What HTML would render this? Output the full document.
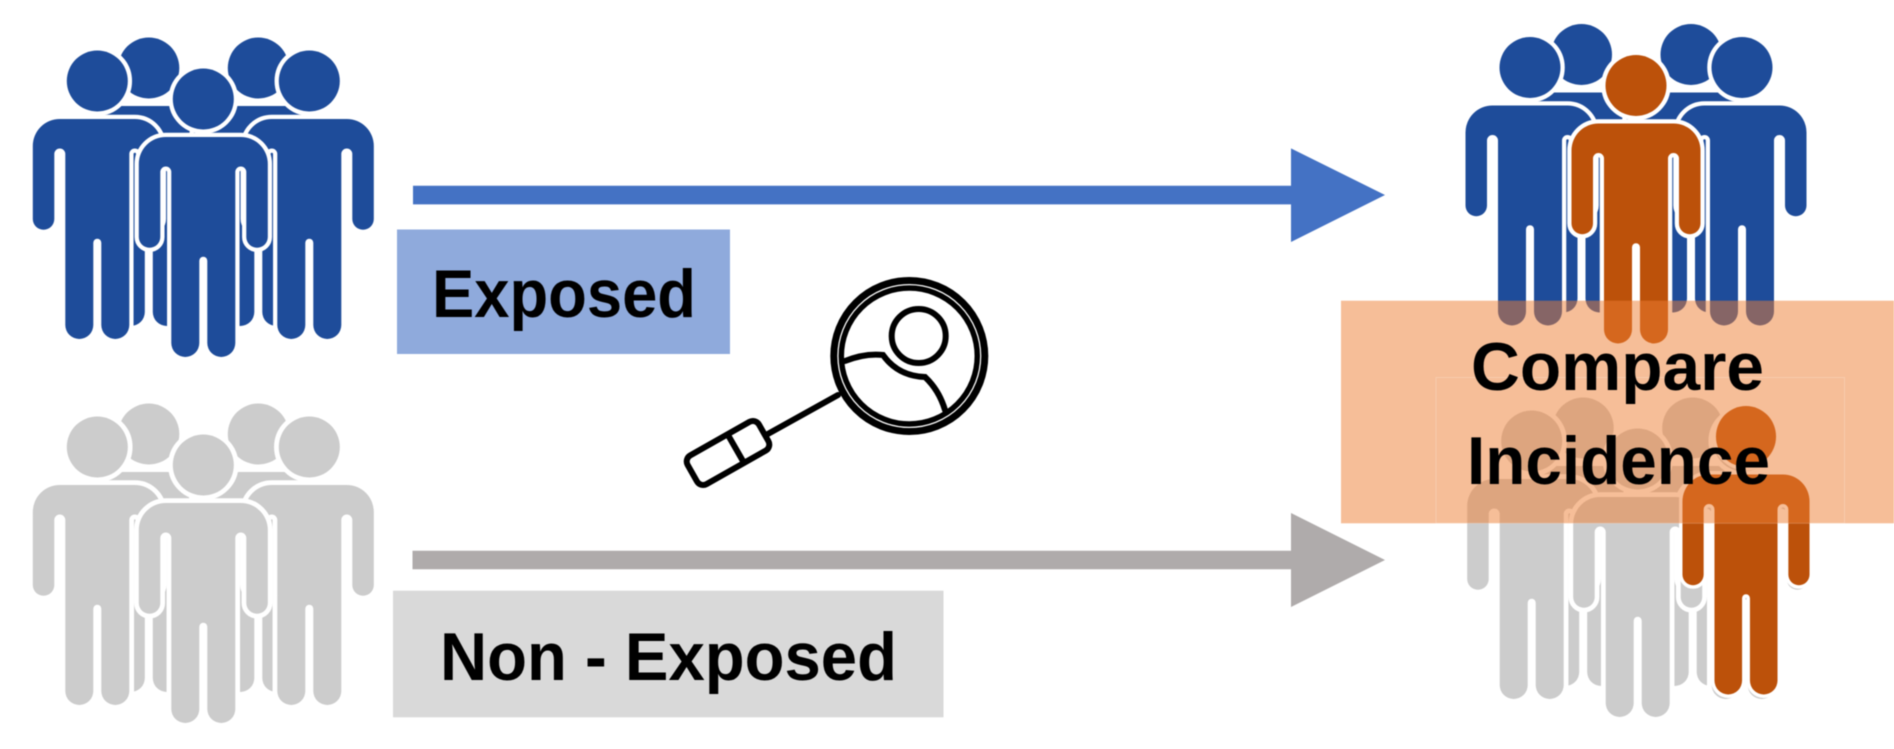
<!DOCTYPE html>
<html>
<head>
<meta charset="utf-8">
<style>
html,body{margin:0;padding:0;background:#fff;width:1894px;height:749px;overflow:hidden}
svg{display:block;filter:blur(0.6px)}
text{font-family:"Liberation Sans",sans-serif;font-weight:bold;fill:#000;font-size:68px}
</style>
</head>
<body>
<svg width="1894" height="749" viewBox="0 0 1894 749" xmlns="http://www.w3.org/2000/svg">
<defs>
<g id="p" stroke="#fff" paint-order="stroke">
<circle cx="0" cy="0" r="30.500"/>
<path d="M-37.500 38H37.500A27 27 0 0 1 64.500 65V138A10.750 10.750 0 0 1 43 138V73A5.500 5.500 0 0 0 32 73V244A14 14 0 0 1 4 244V161.700A4 4 0 0 0 -4 161.700V244A14 14 0 0 1 -32 244V73A5.500 5.500 0 0 0 -43 73V138A10.750 10.750 0 0 1 -64.500 138V65A27 27 0 0 1 -37.500 38Z"/>
</g>
<g id="g4">
<use href="#p" x="-54.500" y="-31"/>
<use href="#p" x="55" y="-31"/>
<use href="#p" x="-106" y="-18"/>
<use href="#p" x="106" y="-18"/>
</g>
</defs>

<rect width="1894" height="749" fill="#fff"/>

<!-- left blue group -->
<g fill="#1E4C9A" stroke-width="8.500" transform="translate(203.300 99)">
<use href="#g4"/><use href="#p"/>
</g>
<!-- left gray group -->
<g fill="#CCCCCC" stroke-width="9.500" transform="translate(203.300 465)">
<use href="#g4"/><use href="#p"/>
</g>

<!-- arrows -->
<path d="M413 185.700H1291V148.400L1385 195L1291 242V204.400H413Z" fill="#4472C4"/>
<path d="M412.500 550.700H1291V513L1385 560L1291 607V569.300H412.500Z" fill="#AFABAB"/>

<!-- labels -->
<rect x="397" y="229.500" width="333" height="124.500" fill="#8FAADC"/>
<text x="432" y="317" textLength="264" lengthAdjust="spacingAndGlyphs">Exposed</text>
<rect x="393" y="590.700" width="550.500" height="126.600" fill="#D9D9D9"/>
<text x="440" y="680" textLength="457" lengthAdjust="spacingAndGlyphs">Non - Exposed</text>

<!-- magnifier -->
<g fill="none" stroke="#000" stroke-linecap="round">
<circle cx="909.300" cy="356" r="75.500" stroke-width="7"/>
<circle cx="909.300" cy="356" r="68" stroke-width="5.500"/>
<circle cx="918.700" cy="336" r="27" stroke-width="6"/>
<path d="M845 361Q865 353 883 355Q898 376 925 377Q939 390 945 410" stroke-width="6"/>
<path d="M838 395L766 435" stroke-width="6"/>
<rect x="-41" y="-16.500" width="82" height="33" rx="7" transform="translate(728 453) rotate(-29.500)" stroke-width="6"/>
<path d="M728 435L743.500 462" stroke-width="6"/>
</g>

<!-- right blue group -->
<g fill="#1E4C9A" stroke-width="8.500" transform="translate(1636 85.500)">
<use href="#g4"/>
<use href="#p" fill="#BC510A"/>
</g>
<!-- right gray group -->
<g fill="#CCCCCC" stroke-width="9.500" transform="translate(1637.700 459)">
<use href="#g4"/><use href="#p"/>
</g>
<g stroke-width="7" transform="translate(1746 436.500) scale(0.985 1)"><use href="#p" fill="#BC510A"/></g>

<!-- overlay -->
<rect x="1341" y="300.700" width="553" height="222.600" fill="#ED7D31" fill-opacity="0.5"/>
<rect x="1436" y="377.500" width="408.500" height="145.800" fill="none" stroke="#fff" stroke-opacity="0.2" stroke-width="1"/>
<text x="1471" y="390" textLength="293" lengthAdjust="spacingAndGlyphs">Compare</text>
<text x="1467" y="484" textLength="303" lengthAdjust="spacingAndGlyphs">Incidence</text>
</svg>
</body>
</html>
